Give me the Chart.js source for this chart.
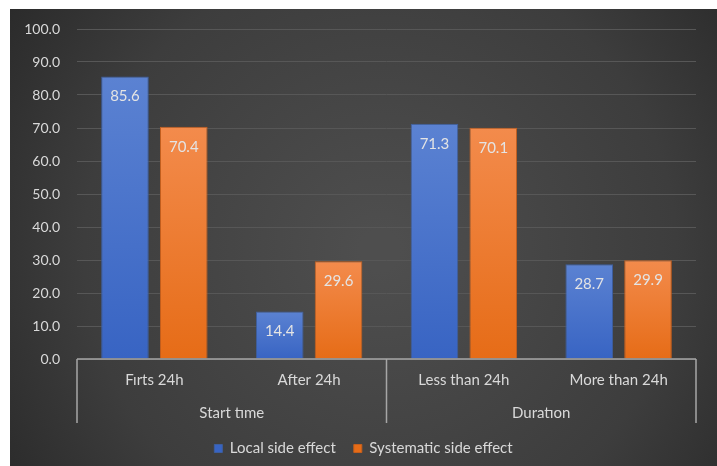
<!DOCTYPE html>
<html>
<head>
<meta charset="utf-8">
<script src="https://cdn.jsdelivr.net/npm/chart.js@4"></script>
<style>
  html, body { margin: 0; padding: 0; background: #ffffff; }
  #wrap { width: 717px; height: 466px; position: relative; }
</style>
</head>
<body>
<div id="wrap"><canvas id="c" width="717" height="466"></canvas></div>
<script>
// ---- data ----
const categories = ['Fırts 24h', 'After 24h', 'Less than 24h', 'More than 24h'];
const groupLabels = ['Start tıme', 'Duratıon'];
const groupSizes = [2, 2];
const seriesNames = ['Local side effect', 'Systematic side effect'];
const localValues = [85.6, 14.4, 71.3, 28.7];
const systematicValues = [70.4, 29.6, 70.1, 29.9];
const yTicksMin = 0, yTicksMax = 100, yTickStep = 10;

const FONT = 'Lato, "Open Sans", sans-serif';
const TEXT = '#d9d9d9';

function barGradient(ctx, topColor, bottomColor) {
  const chart = ctx.chart;
  const ys = chart.scales && chart.scales.y;
  if (!ys || !chart.chartArea || ctx.parsed === undefined) return topColor;
  const top = ys.getPixelForValue(ctx.parsed.y);
  const base = ys.getPixelForValue(0);
  if (!isFinite(top) || !isFinite(base) || top === base) return topColor;
  const g = chart.ctx.createLinearGradient(0, top, 0, base);
  g.addColorStop(0, topColor);
  g.addColorStop(1, bottomColor);
  return g;
}

const bgPlugin = {
  id: 'bg',
  beforeDraw(chart) {
    const c = chart.ctx;
    c.save();
    c.fillStyle = '#ffffff';
    c.fillRect(0, 0, chart.width, chart.height);
    const g = c.createRadialGradient(380, 250, 20, 380, 250, 480);
    g.addColorStop(0, '#4e4e4e');
    g.addColorStop(0.6, '#3d3d3d');
    g.addColorStop(1, '#262626');
    c.fillStyle = g;
    c.fillRect(10, 9, chart.width - 10, chart.height - 9);
    c.restore();
  }
};

const valueLabels = {
  id: 'valueLabels',
  afterDatasetsDraw(chart) {
    const c = chart.ctx;
    c.save();
    c.font = '15px ' + FONT;
    c.fillStyle = '#e4e4e4';
    c.textAlign = 'center';
    c.textBaseline = 'middle';
    chart.data.datasets.forEach((ds, i) => {
      chart.getDatasetMeta(i).data.forEach((bar, j) => {
        c.fillText(ds.data[j].toFixed(1), bar.x, bar.y + 20);
      });
    });
    c.restore();
  }
};

const groupAxis = {
  id: 'groupAxis',
  afterDraw(chart) {
    const xs = chart.scales.x, x2 = chart.scales.x2;
    const top = chart.chartArea.bottom;
    const bottom = x2.bottom;
    const c = chart.ctx;
    c.save();
    c.strokeStyle = '#a6a6a6';
    c.lineWidth = 1.5;
    c.beginPath();
    c.moveTo(xs.left, top);
    c.lineTo(xs.right, top);
    const bounds = [xs.left];
    let idx = 0;
    groupSizes.forEach(n => {
      idx += n;
      if (idx < categories.length) {
        bounds.push((xs.getPixelForValue(idx - 1) + xs.getPixelForValue(idx)) / 2);
      }
    });
    bounds.push(xs.right);
    bounds.forEach(b => {
      c.moveTo(b, top);
      c.lineTo(b, bottom);
    });
    c.stroke();
    c.restore();
  }
};

new Chart(document.getElementById('c'), {
  type: 'bar',
  data: {
    labels: categories,
    datasets: [
      {
        label: seriesNames[0],
        data: localValues,
        backgroundColor: ctx => barGradient(ctx, '#5b82d2', '#3864c3'),
        borderColor: '#3d5e9e',
        borderWidth: 1,
        borderSkipped: 'bottom',
        categoryPercentage: 0.76,
        barPercentage: 0.81
      },
      {
        label: seriesNames[1],
        data: systematicValues,
        backgroundColor: ctx => barGradient(ctx, '#f38b4c', '#e66c17'),
        borderColor: '#c55e1c',
        borderWidth: 1,
        borderSkipped: 'bottom',
        categoryPercentage: 0.76,
        barPercentage: 0.81
      }
    ]
  },
  options: {
    responsive: false,
    animation: false,
    devicePixelRatio: 1,
    layout: { padding: { left: 10, right: 0, top: 29, bottom: 0 } },
    plugins: {
      legend: {
        position: 'bottom',
        labels: {
          color: TEXT,
          font: { family: FONT, size: 15 },
          boxWidth: 8,
          boxHeight: 8,
          padding: 18,
          useBorderRadius: false
        }
      },
      tooltip: { enabled: false }
    },
    scales: {
      x: {
        type: 'category',
        position: 'bottom',
        grid: { display: false, drawTicks: false },
        border: { display: false },
        ticks: { color: TEXT, font: { family: FONT, size: 15 }, padding: 12, maxRotation: 0 },
        afterFit(s) { s.height = 32; }
      },
      x2: {
        type: 'category',
        position: 'bottom',
        labels: groupLabels,
        offset: true,
        grid: { display: false, drawTicks: false },
        border: { display: false },
        ticks: { color: TEXT, font: { family: FONT, size: 15 }, padding: 13, maxRotation: 0 },
        afterFit(s) { s.height = 32; }
      },
      y: {
        min: yTicksMin,
        max: yTicksMax,
        grid: { color: '#575757', lineWidth: 1, drawTicks: false },
        border: { display: false },
        ticks: {
          stepSize: yTickStep,
          color: TEXT,
          font: { family: FONT, size: 14 },
          padding: 17,
          callback: v => v.toFixed(1)
        },
        afterFit(s) { s.width = 67; }
      },
      yR: {
        position: 'right',
        display: true,
        grid: { display: false },
        border: { display: false },
        ticks: { display: false },
        afterFit(s) { s.width = 21; }
      }
    }
  },
  plugins: [bgPlugin, valueLabels, groupAxis]
});
</script>
</body>
</html>
